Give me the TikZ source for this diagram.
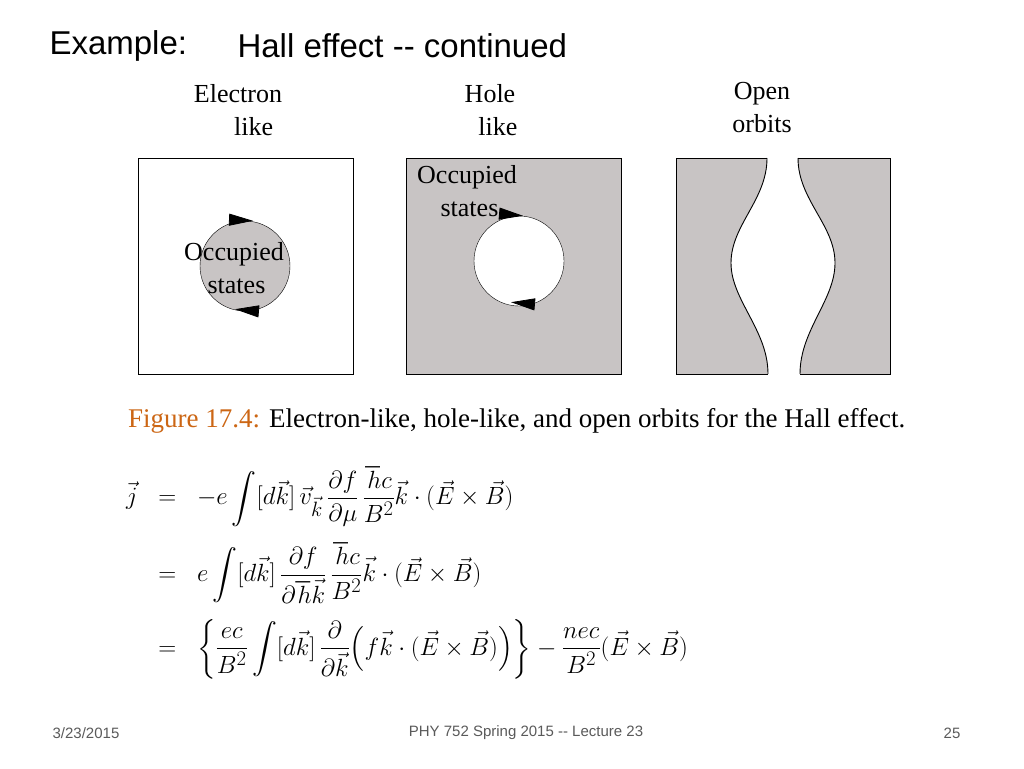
\documentclass[tikz,border=0pt]{standalone}
\usepackage{amsmath}
\usepackage{fontspec}
\newfontfamily\sans{Liberation Sans}
\setmainfont{Liberation Serif}
\usetikzlibrary{arrows.meta}
\definecolor{occ}{RGB}{200,196,196}
\definecolor{capc}{RGB}{204,102,20}
\definecolor{foot}{RGB}{90,90,90}
\begin{document}
\begin{tikzpicture}[x=1pt,y=-1pt,
  panel/.style={draw=black,line width=0.9pt},
  lbl/.style={font=\fontsize{26}{33}\selectfont,align=center},
  tri/.style={-{Triangle[length=24pt,width=12pt]},line width=0.8pt},
  ft/.style={font=\sans\fontsize{15}{18}\selectfont,text=foot}]
\useasboundingbox (0,0) rectangle (1024,768);
\fill[white] (0,0) rectangle (1024,768);
\node[anchor=west,font=\sans\fontsize{33}{38}\selectfont] (ex) at (46,46) {Example:};
\node[anchor=west,font=\sans\fontsize{33}{38}\selectfont] (ti) at (234,46) {Hall effect -- continued};
% labels
\node[lbl] (l1) at (238,110) {Electron\\\hspace*{1.2em}like};
\node[lbl] (l2) at (490,110) {Hole\\\hspace*{0.6em}like};
\node[lbl] (l3) at (762,108) {Open\\orbits};
% panel 1
\node[panel,minimum width=215pt,minimum height=216pt,inner sep=0] (b1) at (245.5,266) {};
\node[circle,draw,fill=occ,minimum size=90pt,inner sep=0] (c1) at (245,266) {};
\draw[tri] (c1.north) ++(-14,-1) -- ++(22,1);
\draw[tri] (c1.south) ++(12,0) -- ++(-22,-2);
\node[lbl,align=left] (t1) at (234,268) {Occupied\\\hspace*{0.9em}states};
% panel 2
\node[panel,fill=occ,minimum width=215pt,minimum height=216pt,inner sep=0] (b2) at (513.5,266) {};
\node[circle,draw,fill=white,minimum size=90pt,inner sep=0] (c2) at (519,261) {};
\draw[tri] (c2.north) ++(-18,-2) -- ++(22,2);
\draw[tri] (c2.south) ++(14,-2) -- ++(-22,-2);
\node[lbl,align=left] (t2) at (467,191) {Occupied\\\hspace*{0.9em}states};
% panel 3
\fill[occ] (676,158) -- (767,158) .. controls (767,200) and (731,225) .. (731,263)
  .. controls (731,300) and (768,330) .. (768,374) -- (676,374) -- cycle;
\fill[occ] (890,158) -- (798,158) .. controls (798,200) and (835,225) .. (835,263)
  .. controls (835,300) and (800,330) .. (800,374) -- (890,374) -- cycle;
\draw[panel] (767,158) -- (676,158) -- (676,374) -- (768,374);
\draw[panel] (798,158) -- (890,158) -- (890,374) -- (800,374);
\draw[line width=0.9pt] (767,158) .. controls (767,200) and (731,225) .. (731,263)
  .. controls (731,300) and (768,330) .. (768,374);
\draw[line width=0.9pt] (798,158) .. controls (798,200) and (835,225) .. (835,263)
  .. controls (835,300) and (800,330) .. (800,374);
% caption
\node[anchor=west,font=\fontsize{27}{30}\selectfont,inner sep=0] (cap) at (128,421) {\textcolor{capc}{Figure 17.4:} Electron-like, hole-like, and open orbits for the Hall effect.};
% equations
\node[anchor=north west,font=\fontsize{29}{34}\selectfont,inner sep=0] (eq) at (126,466) {$\displaystyle
\begin{aligned}
\vec{j}\;\; &=\;\; -e\int[d\vec{k}]\,\vec{v}_{\vec{k}}\,\frac{\partial f}{\partial\mu}\,\frac{\hbar c}{B^2}\vec{k}\cdot(\vec{E}\times\vec{B})\\[12pt]
&=\;\; e\int[d\vec{k}]\,\frac{\partial f}{\partial\hbar\vec{k}}\,\frac{\hbar c}{B^2}\vec{k}\cdot(\vec{E}\times\vec{B})\\[12pt]
&=\;\; \left\{\frac{ec}{B^2}\int[d\vec{k}]\,\frac{\partial}{\partial\vec{k}}\Big(f\vec{k}\cdot(\vec{E}\times\vec{B})\Big)\right\}-\frac{nec}{B^2}(\vec{E}\times\vec{B})
\end{aligned}$};
% footer
\node[ft] (f1) at (86,733) {3/23/2015};
\node[ft] (f2) at (526,733) {PHY 752  Spring 2015 -- Lecture 23};
\node[ft] (f3) at (952,733) {25};
\end{tikzpicture}
\end{document}
